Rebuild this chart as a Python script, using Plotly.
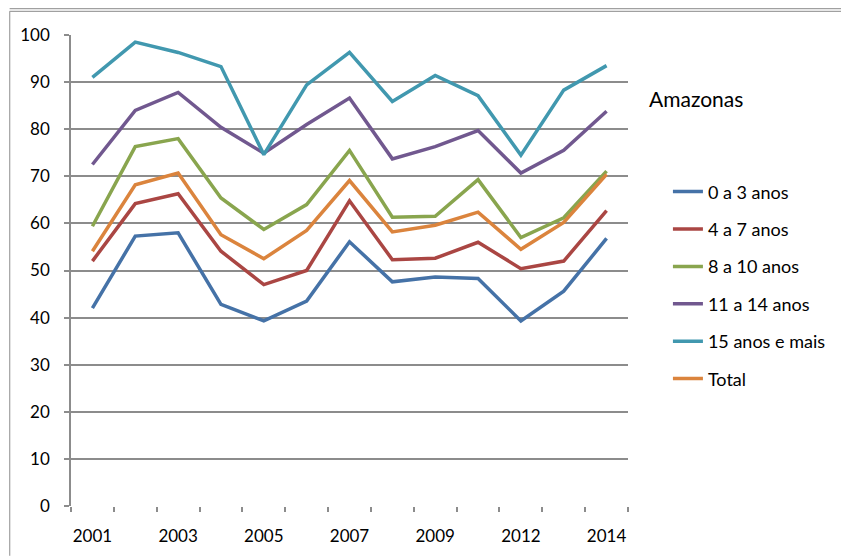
import plotly.graph_objects as go

years = ["2001", "2002", "2003", "2004", "2005", "2006", "2007", "2008", "2009", "2011", "2012", "2013", "2014"]

s_0_3 = [42.0, 57.3, 58.0, 42.8, 39.3, 43.5, 56.1, 47.6, 48.6, 48.3, 39.3, 45.6, 56.8]
s_4_7 = [52.0, 64.2, 66.3, 54.1, 47.0, 50.0, 64.8, 52.3, 52.6, 56.0, 50.4, 52.0, 62.7]
s_8_10 = [59.4, 76.3, 78.0, 65.4, 58.7, 64.0, 75.5, 61.3, 61.5, 69.3, 57.0, 61.2, 71.1]
s_11_14 = [72.5, 84.0, 87.8, 80.4, 74.9, 81.0, 86.6, 73.7, 76.3, 79.7, 70.7, 75.5, 83.8]
s_15_mais = [91.0, 98.5, 96.3, 93.3, 74.6, 89.4, 96.3, 85.9, 91.4, 87.1, 74.5, 88.3, 93.5]
s_total = [54.1, 68.2, 70.7, 57.6, 52.5, 58.5, 69.1, 58.2, 59.6, 62.4, 54.5, 60.2, 70.4]

series_names = ["0 a 3 anos", "4 a 7 anos", "8 a 10 anos", "11 a 14 anos", "15 anos e mais", "Total"]
series_values = [s_0_3, s_4_7, s_8_10, s_11_14, s_15_mais, s_total]
colors = ["#4572A7", "#AA4643", "#89A54E", "#71588F", "#4198AF", "#DB843D"]

y_ticks = list(range(0, 101, 10))
x_idx = list(range(len(years)))
label_idx = x_idx[::2]
label_text = [years[i] for i in label_idx]

FONT = "Lato, 'Open Sans', sans-serif"

fig = go.Figure()
for i, (name, vals, col) in enumerate(zip(series_names, series_values, colors)):
    fig.add_trace(go.Scatter(
        x=x_idx, y=vals, mode="lines", name=name,
        line=dict(color=col, width=3.5),
        legendgroup=f"g{i}",
    ))

# figure sits inside the page's 8px body margin
W, H = 841, 550
L, R, T, B = 62, 221, 27, 50
pw, ph = W - L - R, H - T - B

def px_x(x):
    return (x - L) / pw

def px_y(y):
    return (H - B - y) / ph

grid_col = "#8C8C8C"

fig.update_layout(
    width=W, height=H,
    margin=dict(l=L, r=R, t=T, b=B),
    paper_bgcolor="white", plot_bgcolor="white",
    font=dict(family=FONT, size=17, color="#000000"),
    showlegend=True,
    legend=dict(
        x=px_x(660), y=px_y(166), xanchor="left", yanchor="top",
        traceorder="grouped", tracegroupgap=11,
        font=dict(family=FONT, size=18, color="#000000"),
        bgcolor="rgba(0,0,0,0)",
    ),
    xaxis=dict(
        range=[-0.5, len(years) - 0.5],
        tickmode="array", tickvals=label_idx, ticktext=label_text,
        ticks="", showgrid=False, zeroline=False,
        showline=False,
        ticklabelstandoff=18,
        minor=dict(tickmode="array", tickvals=[i - 0.5 for i in range(len(years) + 1)],
                   ticks="outside", ticklen=5, tickcolor=grid_col, tickwidth=1.5, showgrid=False),
        tickfont=dict(family=FONT, size=17),
    ),
    yaxis=dict(
        range=[0, 100], tickmode="array", tickvals=y_ticks,
        ticks="outside", ticklen=5, tickcolor=grid_col, tickwidth=1.5,
        showgrid=True, gridcolor=grid_col, gridwidth=1.5,
        zeroline=False, showline=True, linecolor=grid_col, linewidth=1.5,
        ticklabelstandoff=11,
        tickfont=dict(family=FONT, size=17),
    ),
    annotations=[
        dict(text="Amazonas", x=px_x(639), y=px_y(91), xref="paper", yref="paper",
             xanchor="left", yanchor="middle", showarrow=False,
             font=dict(family=FONT, size=21, color="#000000")),
    ],
    shapes=[
        dict(type="line", xref="paper", yref="paper", x0=px_x(0.5), x1=px_x(841),
             y0=px_y(0.6), y1=px_y(0.6), line=dict(color="#A0A0A0", width=1.2)),
        dict(type="line", xref="paper", yref="paper", x0=px_x(0.5), x1=px_x(841),
             y0=px_y(3.2), y1=px_y(3.2), line=dict(color="#A0A0A0", width=1.2)),
        dict(type="line", xref="paper", yref="paper", x0=px_x(0.6), x1=px_x(0.6),
             y0=px_y(3.2), y1=px_y(550), line=dict(color="#A0A0A0", width=1.2)),
    ],
)

fig.write_html("out.html")
